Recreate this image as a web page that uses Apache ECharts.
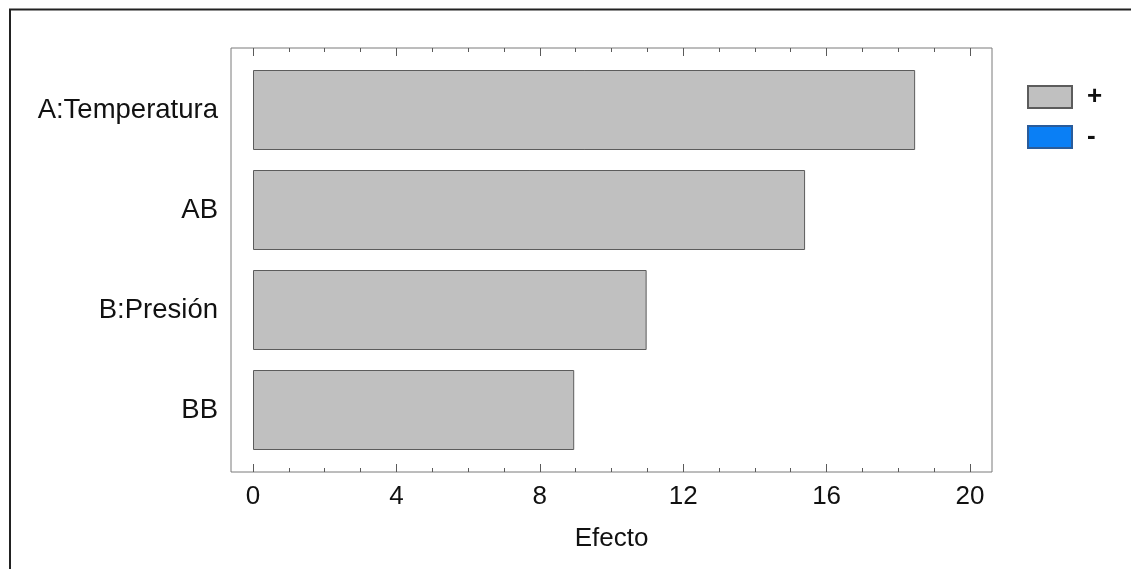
<!DOCTYPE html>
<html>
<head>
<meta charset="utf-8">
<style>
  html, body { margin: 0; padding: 0; background: #ffffff; }
  #chart { width: 1131px; height: 569px; }
</style>
<script src="https://cdn.jsdelivr.net/npm/echarts@6/dist/echarts.min.js"></script>
</head>
<body>
<div id="chart"></div>
<script>
// Standardized Pareto chart of effects
const categories = ['A:Temperatura', 'AB', 'B:Presión', 'BB'];
const effects = [18.47, 15.4, 10.98, 8.96];
const majorTicks = [0, 4, 8, 12, 16, 20];
const minorTicks = [0, 1, 2, 3, 4, 5, 6, 7, 8, 9, 10, 11, 12, 13, 14, 15, 16, 17, 18, 19, 20];
const axisMin = -0.614;
const axisMax = 20.614;

const FONT = '"Liberation Sans", Arial, sans-serif';
const tickColor = '#5a5a5a';

// Frame axes (grid 0): ticks on the bottom and top edges of the plot box
function tickAxis(position, values, len, withLabels) {
  const ax = {
    type: 'value',
    gridIndex: 0,
    position: position,
    min: axisMin,
    max: axisMax,
    axisLine: { show: false },
    splitLine: { show: false },
    axisTick: {
      show: true,
      inside: true,
      length: len,
      customValues: values,
      lineStyle: { color: tickColor, width: 1 }
    },
    axisLabel: { show: false }
  };
  if (withLabels) {
    ax.axisLabel = {
      show: true,
      customValues: majorTicks,
      fontFamily: FONT,
      fontSize: 26,
      color: '#111111',
      margin: 12
    };
    ax.name = 'Efecto';
    ax.nameLocation = 'middle';
    ax.nameGap = 54;
    ax.nameTextStyle = { fontFamily: FONT, fontSize: 26, color: '#111111' };
  }
  return ax;
}

const chart = echarts.init(document.getElementById('chart'), null, { renderer: 'canvas' });

chart.setOption({
  animation: false,
  backgroundColor: '#ffffff',
  grid: [
    {
      left: 231, right: 139, top: 48, bottom: 97,
      show: true,
      borderColor: '#7a7a7a',
      borderWidth: 1,
      backgroundColor: 'transparent'
    },
    {
      left: 231, right: 139, top: 60, bottom: 109,
      show: false
    }
  ],
  legend: {
    orient: 'vertical',
    left: 1027,
    top: 84,
    padding: 0,
    itemWidth: 44,
    itemHeight: 22,
    itemGap: 14,
    icon: 'rect',
    data: ['+', '-'],
    textStyle: {
      fontFamily: FONT,
      fontSize: 26,
      fontWeight: 'bold',
      color: '#111111',
      padding: [0, 0, 0, 10]
    }
  },
  xAxis: [
    tickAxis('bottom', majorTicks, 8, true),
    tickAxis('bottom', minorTicks, 4, false),
    tickAxis('top', majorTicks, 8, false),
    tickAxis('top', minorTicks, 4, false),
    {
      type: 'value',
      gridIndex: 1,
      min: axisMin,
      max: axisMax,
      show: false
    }
  ],
  yAxis: [
    {
      type: 'value',
      gridIndex: 0,
      min: 0,
      max: 1,
      show: false
    },
    {
      type: 'category',
      gridIndex: 1,
      data: categories,
      inverse: true,
      axisLine: { show: false },
      axisTick: { show: false },
      splitLine: { show: false },
      axisLabel: {
        fontFamily: FONT,
        fontSize: 27.5,
        color: '#111111',
        margin: 13
      }
    }
  ],
  series: [
    {
      name: '+',
      type: 'bar',
      xAxisIndex: 4,
      yAxisIndex: 1,
      stack: 'effect',
      data: effects,
      barCategoryGap: '20%',
      itemStyle: { color: '#c0c0c0', borderColor: '#5c5c5c', borderWidth: 1 }
    },
    {
      name: '-',
      type: 'bar',
      xAxisIndex: 4,
      yAxisIndex: 1,
      stack: 'effect',
      data: [],
      itemStyle: { color: '#0a7ff5', borderColor: '#2a5c9a', borderWidth: 1 }
    }
  ],
  graphic: [
    {
      type: 'line',
      shape: { x1: 9, y1: 9.5, x2: 1131, y2: 9.5 },
      style: { stroke: '#222222', lineWidth: 2 },
      silent: true
    },
    {
      type: 'line',
      shape: { x1: 10, y1: 9, x2: 10, y2: 569 },
      style: { stroke: '#222222', lineWidth: 2 },
      silent: true
    }
  ]
});
</script>
</body>
</html>
